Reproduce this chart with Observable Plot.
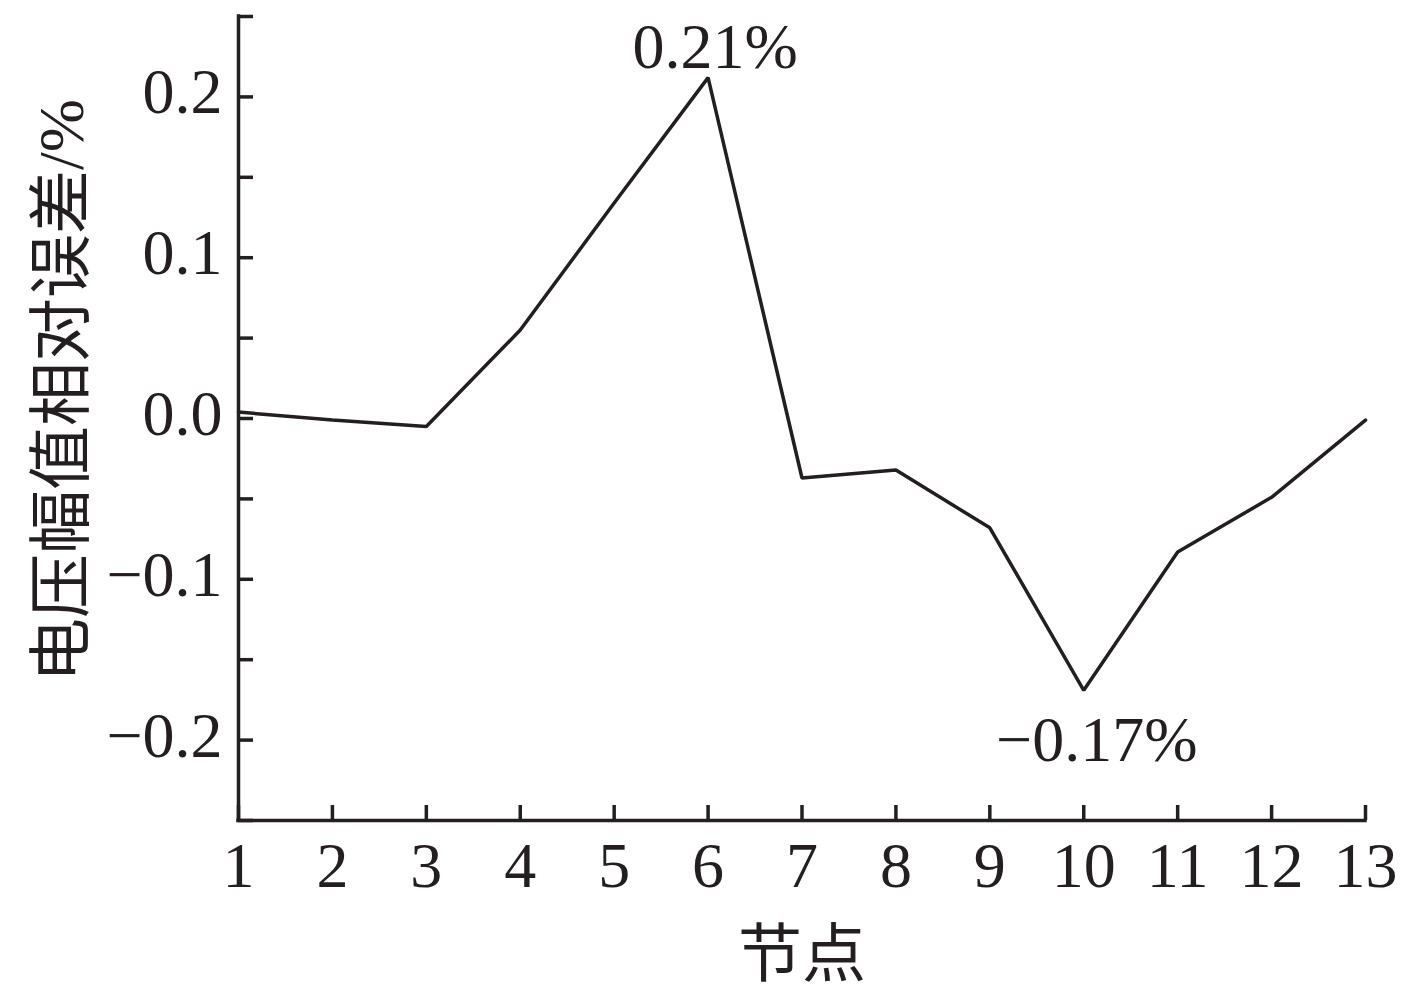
<!DOCTYPE html>
<html>
<head>
<meta charset="utf-8">
<script src="https://cdn.jsdelivr.net/npm/d3@7"></script>
<script src="https://cdn.jsdelivr.net/npm/@observablehq/plot@0.6"></script>
<style>
  html, body { margin: 0; padding: 0; background: #fff; }
  #chart svg { display: block; }
</style>
</head>
<body>
<div id="chart"></div>
<script>
// ---- data ----
const nodes = [1, 2, 3, 4, 5, 6, 7, 8, 9, 10, 11, 12, 13];
const errors = [0.004, -0.001, -0.005, 0.055, 0.134, 0.212, -0.037, -0.032, -0.068, -0.169, -0.083, -0.049, -0.001];
const xTicks = [1, 2, 3, 4, 5, 6, 7, 8, 9, 10, 11, 12, 13];
const yTicks = [-0.25, -0.2, -0.15, -0.1, -0.05, 0, 0.05, 0.1, 0.15, 0.2, 0.25];
const yLabels = [-0.2, -0.1, 0, 0.1, 0.2];
const annoNodes = [6, 10];
const annoValues = [0.212, -0.169];
const annoTexts = ["0.21%", "\u22120.17%"];
const xTitle = "节点";
const yTitle = "电压幅值相对误差/%";

// ---- layout ----
const W = 1404, H = 997;
const mL = 238, mR = 39, mT = 16, mB = 177;
const plotW = W - mL - mR, plotH = H - mT - mB;
const ink = "#231f20";
const font = "'Liberation Serif', 'Noto Sans CJK SC', serif";
const fs = 64;
const sw = 3.5;

const series = nodes.map((n, i) => ({node: n, err: errors[i]}));
const annos = annoNodes.map((n, i) => ({node: n, err: annoValues[i], text: annoTexts[i]}));
const fmt = d => (d < 0 ? "\u2212" : "") + Math.abs(d).toFixed(1);

const chart = Plot.plot({
  width: W,
  height: H,
  marginLeft: mL,
  marginRight: mR,
  marginTop: mT,
  marginBottom: mB,
  style: {fontFamily: font, background: "#fff", color: ink, overflow: "visible"},
  x: {domain: [1, 13], axis: null},
  y: {domain: [-0.25, 0.25], axis: null},
  marks: [
    // y ticks (inward)
    Plot.tickY(yTicks, {y: d => d, insetRight: plotW - 15, stroke: ink, strokeWidth: sw}),
    // x ticks (inward)
    Plot.tickX(xTicks, {x: d => d, insetTop: plotH - 15, stroke: ink, strokeWidth: sw}),
    // axis lines
    Plot.ruleX([1], {stroke: ink, strokeWidth: sw, strokeLinecap: "square"}),
    Plot.ruleY([-0.25], {stroke: ink, strokeWidth: sw, strokeLinecap: "square"}),
    // tick labels
    Plot.text(yLabels, {y: d => d, text: fmt, frameAnchor: "left", dx: -16, dy: -4, textAnchor: "end", fontSize: fs, fill: ink}),
    Plot.text(xTicks, {x: d => d, text: d => String(d), frameAnchor: "bottom", dy: 66, textAnchor: "middle", fontSize: fs, fill: ink}),
    // data line
    Plot.line(series, {x: "node", y: "err", stroke: ink, strokeWidth: sw, strokeLinejoin: "miter"}),
    // annotations
    Plot.text(annos.slice(0, 1), {x: "node", y: "err", text: "text", dx: 7, dy: -30, fontSize: fs, fill: ink}),
    Plot.text(annos.slice(1), {x: "node", y: "err", text: "text", dx: 13, dy: 50, fontSize: fs, fill: ink}),
    // axis titles
    Plot.text([xTitle], {text: d => d, frameAnchor: "bottom", dy: 155, textAnchor: "middle", fontSize: fs, fill: ink}),
    Plot.text([yTitle], {text: d => d, frameAnchor: "left", dx: -176, dy: -28, textAnchor: "middle", rotate: -90, fontSize: fs, fill: ink})
  ]
});
document.getElementById("chart").appendChild(chart);
</script>
</body>
</html>
